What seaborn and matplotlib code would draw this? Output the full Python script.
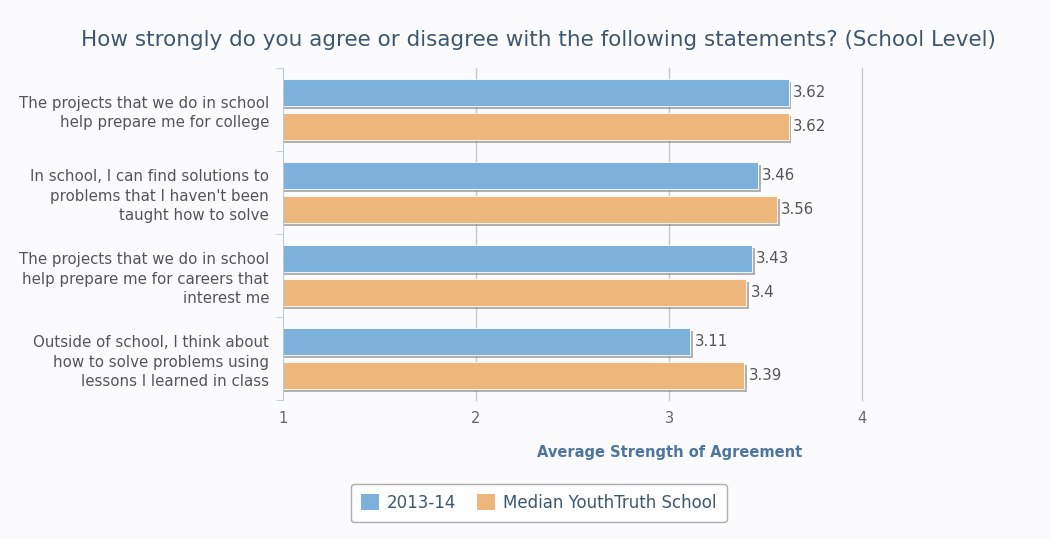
import numpy as np
import pandas as pd
import seaborn as sns
import matplotlib.pyplot as plt
import matplotlib.patheffects as pe

# dane
statements = ['The projects that we do in school\nhelp prepare me for college',
              'In school, I can find solutions to\nproblems that I haven\'t been\ntaught how to solve',
              'The projects that we do in school\nhelp prepare me for careers that\ninterest me',
              'Outside of school, I think about\nhow to solve problems using\nlessons I learned in class']
series = ['2013-14', 'Median YouthTruth School']
vals_2013 = [3.62, 3.46, 3.43, 3.11]
vals_median = [3.62, 3.56, 3.4, 3.39]
colors = ['#7EB0DC', '#EDB67A']

df = pd.DataFrame({'Statement': statements * 2,
                   'Series': [series[0]] * 4 + [series[1]] * 4,
                   'Value': vals_2013 + vals_median})

bg = '#fbfbfd'
fig = plt.figure(figsize = (10.5, 5.39), dpi = 100, facecolor = bg)
ax = fig.add_axes([0.2695, 0.258, 0.5515, 0.616])
ax.set_facecolor(bg)

sns.barplot(data = df, x = 'Value', y = 'Statement', hue = 'Series',
            palette = colors, saturation = 1, orient = 'h', width = 0.82, gap = 0.2,
            edgecolor = 'white', linewidth = 0.6, ax = ax, legend = False)

# cien pod slupkami
for bars in ax.containers:
    for b in bars:
        b.set_path_effects([pe.SimplePatchShadow(offset = (2, -2),
                                                 shadow_rgbFace = '#808080',
                                                 alpha = 0.6), pe.Normal()])
    ax.bar_label(bars, fmt = '%g', padding = 3, fontsize = 10.8, color = '#555555')

ax.set_xlim(1, 4)
ax.set_ylim(3.5, -0.5)
ax.set_xticks([1, 2, 3, 4])
for xv in [2, 3, 4]:
    ax.axvline(xv, color = '#c8c8c8', linewidth = 1, zorder = 0, clip_on = False)
for s in ['top', 'right', 'bottom']:
    ax.spines[s].set_visible(False)
ax.spines['left'].set_color('#B8CCE0')
ax.tick_params(axis = 'x', length = 0, pad = 8, labelsize = 10.5, labelcolor = '#666666')
ax.tick_params(axis = 'y', which = 'major', length = 0, pad = 10, labelsize = 10.8,
               labelcolor = '#555555')
ax.set_yticks(np.arange(-0.5, 4, 1), minor = True)
ax.tick_params(axis = 'y', which = 'minor', length = 5, color = '#B8CCE0')
for t in ax.get_yticklabels():
    t.set_horizontalalignment('right')
    t.set_multialignment('right')
    t.set_linespacing(1.35)
ax.set_xlabel('')
ax.set_ylabel('')

fig.text(0.513, 0.925, 'How strongly do you agree or disagree with the following statements? (School Level)',
         ha = 'center', va = 'center', fontsize = 15.5, color = '#3E576F')
fig.text(0.638, 0.161, 'Average Strength of Agreement', ha = 'center', va = 'center',
         fontsize = 10.5, fontweight = 'bold', color = '#4D759E')

handles = [plt.Rectangle((0, 0), 1, 1, facecolor = c, edgecolor = 'none') for c in colors]
leg = fig.legend(handles, series, loc = 'center', bbox_to_anchor = (0.513, 0.067),
                 ncol = 2, frameon = True, fancybox = True, fontsize = 12,
                 handlelength = 1.1, handleheight = 1.1, handletextpad = 0.5,
                 columnspacing = 1.2, borderpad = 0.6, labelcolor = '#3E576F')
leg.get_frame().set_edgecolor('#999999')
leg.get_frame().set_facecolor('white')
leg.get_frame().set_linewidth(1)

plt.savefig('out.png', dpi = 100, facecolor = bg)
